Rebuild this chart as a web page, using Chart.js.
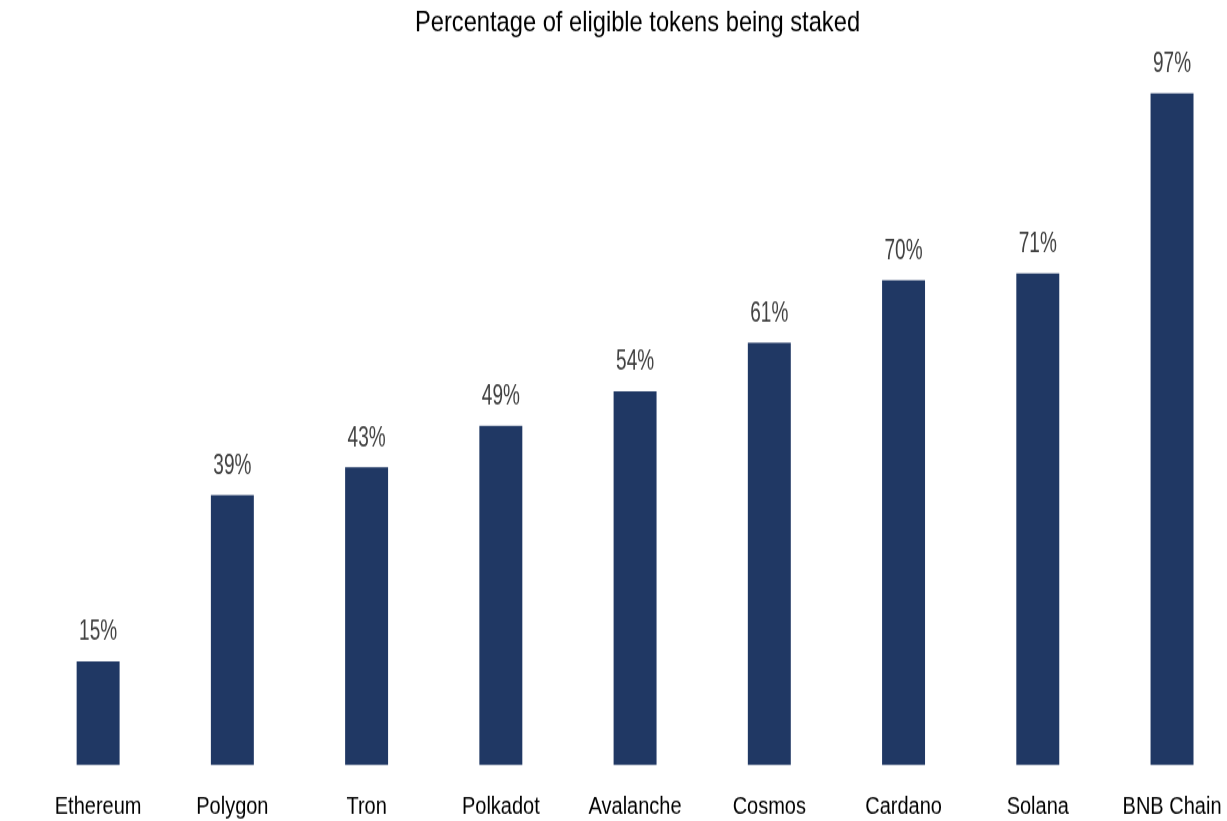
<!DOCTYPE html>
<html lang="en">

<head>
    <meta charset="UTF-8">
    <title>Staking Ratio</title>
    <style>
        html, body { margin: 0; padding: 0; overflow: hidden; background: #fff; width: 1227px; height: 821px; }
        /* 原图文字被纵向拉伸过，这里整体纵向拉伸画布 */
        .chart-container { transform: scaleY(1.2003); transform-origin: 0 0; width: 1244px; height: 684px; }
        #chart { width: 1244px; height: 684px; display: block; }
    </style>
</head>

<body>
    <div class="chart-container">
        <canvas id="chart" width="1244" height="684"></canvas>
    </div>
</body>

<script src="https://cdn.jsdelivr.net/npm/chart.js@4.4.0/dist/chart.umd.min.js"></script>

<script>
    const labels = ['Ethereum', 'Polygon', 'Tron', 'Polkadot', 'Avalanche', 'Cosmos', 'Cardano', 'Solana', 'BNB Chain'];
    const stakedPct = [15, 39, 43, 49, 54, 61, 70, 71, 97];
    const fontFamily = "'Liberation Sans Narrow', 'Liberation Sans', Arial, sans-serif";

    // 柱顶百分比标签
    const valueLabels = {
        id: 'valueLabels',
        afterDatasetsDraw(chart) {
            const c = chart.ctx;
            const meta = chart.getDatasetMeta(0);
            c.save();
            c.font = '19px ' + fontFamily;
            c.fillStyle = '#404040';
            c.textAlign = 'center';
            c.textBaseline = 'alphabetic';
            meta.data.forEach(function (bar, i) {
                c.save();
                c.translate(bar.x, bar.y - 17.5);
                c.scale(1, 1.22);
                c.fillText(stakedPct[i] + '%', 0, 0);
                c.restore();
            });
            c.restore();
        }
    };

    let ctx = document.getElementById('chart');
    let data = {
        labels: labels,
        datasets: [{
            data: stakedPct,
            backgroundColor: '#203864',
            borderWidth: 0,
            barPercentage: 0.32,
            categoryPercentage: 1.0
        }]
    };
    var config = {
        type: 'bar',
        data: data,
        options: {
            responsive: false,
            animation: false,
            devicePixelRatio: 1,
            layout: {
                padding: { left: 31, right: 0, top: 5, bottom: 0 }
            },
            plugins: {
                legend: { display: false },
                tooltip: { enabled: false },
                title: {
                    display: true,
                    text: 'Percentage of eligible tokens being staked',
                    color: '#000',
                    font: { family: fontFamily, size: 23.7, weight: 'normal' },
                    padding: { top: 0, bottom: 27 }
                }
            },
            scales: {
                x: {
                    grid: { display: false, drawTicks: false },
                    border: { display: false },
                    ticks: {
                        color: '#000',
                        font: { family: fontFamily, size: 20 },
                        padding: 22.5,
                        maxRotation: 0,
                        autoSkip: false
                    },
                    afterFit: function (scale) {
                        scale.height = 46.5;
                    }
                },
                y: {
                    display: false,
                    min: 0,
                    max: 100
                }
            }
        },
        plugins: [valueLabels]
    };
    var chart = new Chart(ctx, config);
</script>

</html>
